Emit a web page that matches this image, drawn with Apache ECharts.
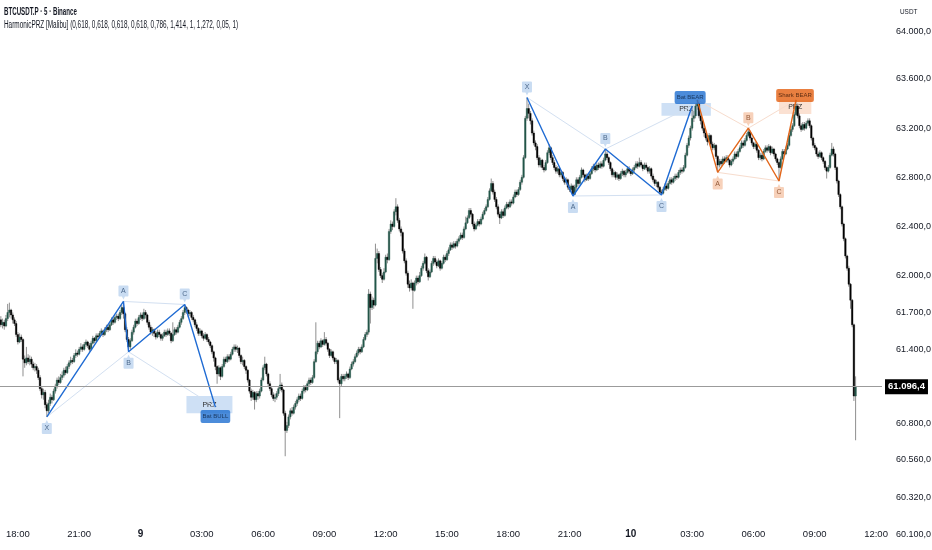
<!DOCTYPE html>
<html>
<head>
<meta charset="utf-8">
<script src="https://cdn.jsdelivr.net/npm/echarts@6/dist/echarts.min.js"></script>
<style>
html,body{margin:0;padding:0;background:#fff;}
#chart{width:932px;height:550px;}
</style>
</head>
<body>
<div id="chart"></div>
<script>
// ---------- DATA ----------
const symbolTitle = 'BTCUSDT.P · 5 · Binance';
const indicatorTitle = 'HarmonicPRZ [Malibu] (0,618, 0,618, 0,618, 0,618, 0,786, 1,414, 1, 1,272, 0,05, 1)';
const currencyLabel = 'USDT';
const startDay = 8, startMinute = 17 * 60 + 10, slotCount = 518; // 5-minute slots from 17:10
const lastPrice = 61096.4;
const lastPriceLabel = '61.096,4';

// candles: [open, close, low, high]
const candles = [
[61640,61600,61580,61670],[61600,61620,61570,61650],[61620,61590,61560,61640],[61590,61650,61580,61680],[61650,61700,61630,61770],
[61700,61720,61660,61780],[61720,61680,61650,61730],[61680,61640,61610,61700],[61640,61610,61590,61660],[61610,61520,61500,61630],
[61520,61460,61440,61540],[61460,61500,61450,61530],[61500,61480,61460,61520],[61480,61320,61180,61490],[61320,61290,61250,61350],
[61290,61330,61270,61420],[61330,61300,61280,61360],[61300,61320,61270,61350],[61320,61280,61250,61340],[61280,61250,61230,61300],
[61250,61260,61220,61290],[61260,61230,61200,61280],[61230,61170,61150,61250],[61170,61080,61060,61190],[61080,61030,61000,61100],
[61030,61050,60990,61080],[61050,60950,60920,61070],[60950,60900,60850,60970],[60900,60960,60880,60990],[60960,61010,60940,61040],
[61010,60990,60960,61030],[60990,61060,60980,61080],[61060,61100,61040,61120],[61100,61150,61080,61170],[61150,61130,61110,61180],
[61130,61170,61120,61200],[61170,61190,61150,61220],[61190,61230,61170,61250],[61230,61210,61190,61260],[61210,61260,61200,61280],
[61260,61290,61240,61310],[61290,61310,61270,61340],[61310,61300,61280,61330],[61300,61350,61290,61370],[61350,61370,61330,61400],
[61370,61360,61340,61390],[61360,61400,61350,61420],[61400,61420,61380,61450],[61420,61400,61380,61440],[61400,61440,61390,61460],
[61440,61460,61420,61480],[61460,61430,61410,61470],[61430,61400,61380,61450],[61400,61450,61390,61470],[61450,61490,61440,61510],
[61490,61470,61450,61500],[61470,61510,61460,61530],[61510,61500,61480,61530],[61500,61530,61490,61550],[61530,61550,61510,61570],
[61550,61520,61500,61560],[61520,61560,61510,61580],[61560,61580,61540,61600],[61580,61560,61540,61600],[61560,61600,61550,61620],
[61600,61640,61590,61660],[61640,61620,61600,61660],[61620,61660,61610,61680],[61660,61670,61640,61690],[61670,61650,61630,61690],
[61650,61700,61640,61720],[61700,61740,61680,61760],[61740,61690,61650,61790],[61690,61560,61540,61700],[61560,61480,61460,61580],
[61480,61420,61380,61500],[61420,61470,61400,61490],[61470,61540,61460,61560],[61540,61580,61520,61600],[61580,61630,61570,61650],
[61630,61610,61590,61650],[61610,61660,61600,61680],[61660,61680,61640,61700],[61680,61650,61630,61700],[61650,61700,61640,61730],
[61700,61680,61650,61720],[61680,61620,61600,61690],[61620,61580,61560,61640],[61580,61540,61520,61600],[61540,61560,61510,61580],
[61560,61530,61500,61570],[61530,61500,61480,61550],[61500,61540,61490,61560],[61540,61520,61500,61560],[61520,61490,61470,61530],
[61490,61510,61470,61530],[61510,61540,61500,61560],[61540,61520,61500,61560],[61520,61550,61510,61570],[61550,61530,61510,61570],
[61530,61470,61450,61540],[61470,61520,61460,61620],[61520,61560,61510,61580],[61560,61540,61520,61580],[61540,61580,61530,61600],
[61580,61620,61570,61640],[61620,61650,61600,61670],[61650,61700,61640,61720],[61700,61740,61680,61765],[61740,61720,61690,61750],
[61720,61690,61660,61730],[61690,61700,61670,61720],[61700,61660,61640,61710],[61660,61640,61620,61680],[61640,61600,61580,61650],
[61600,61570,61550,61620],[61570,61530,61510,61580],[61530,61550,61510,61570],[61550,61510,61490,61560],[61510,61490,61470,61530],
[61490,61520,61480,61540],[61520,61480,61460,61530],[61480,61460,61440,61500],[61460,61430,61410,61470],[61430,61380,61360,61440],
[61380,61330,61300,61390],[61330,61260,61230,61340],[61260,61200,61120,61270],[61200,61250,61180,61270],[61250,61180,61150,61260],
[61180,61260,61170,61280],[61260,61320,61250,61340],[61320,61300,61280,61340],[61300,61340,61290,61360],[61340,61320,61300,61360],
[61320,61360,61310,61380],[61360,61400,61350,61420],[61400,61420,61380,61440],[61420,61400,61380,61440],[61400,61410,61370,61430],
[61410,61350,61330,61420],[61350,61300,61280,61360],[61300,61310,61270,61340],[61310,61260,61240,61320],[61260,61230,61200,61270],
[61230,61150,61130,61240],[61150,61060,61040,61160],[61060,61010,60980,61080],[61010,61050,60990,61070],[61050,60990,60910,61060],
[60990,61040,60970,61060],[61040,61020,60990,61060],[61020,61060,61000,61080],[61060,61150,61050,61170],[61150,61250,61140,61270],
[61250,61280,61230,61340],[61280,61200,61180,61290],[61200,61120,61100,61210],[61120,61080,61060,61140],[61080,61030,61010,61100],
[61030,61000,60980,61050],[61000,61010,60970,61040],[61010,61040,60990,61060],[61040,61080,61020,61100],[61080,61110,61060,61200],
[61110,61070,61050,61130],[61070,60880,60860,61080],[60880,60740,60530,60900],[60740,60780,60720,60810],[60780,60850,60760,60870],
[60850,60900,60830,60920],[60900,60880,60860,60930],[60880,60930,60870,60950],[60930,60960,60910,60980],[60960,60990,60940,61010],
[60990,61020,60970,61040],[61020,61000,60980,61040],[61000,61060,60990,61080],[61060,61090,61040,61110],[61090,61070,61050,61110],
[61070,61120,61060,61140],[61120,61150,61100,61170],[61150,61130,61110,61170],[61130,61170,61120,61190],[61170,61300,61160,61320],
[61300,61380,61290,61620],[61380,61450,61360,61470],[61450,61420,61400,61470],[61420,61470,61410,61490],[61470,61440,61420,61480],
[61440,61480,61430,61540],[61480,61450,61430,61500],[61450,61400,61380,61460],[61400,61350,61330,61410],[61350,61380,61340,61400],
[61380,61330,61310,61390],[61330,61300,61280,61340],[61300,61310,61280,61330],[61310,61150,61130,61320],[61150,61120,60840,61170],
[61120,61180,61100,61200],[61180,61160,61140,61200],[61160,61180,61140,61200],[61180,61200,61160,61220],[61200,61170,61150,61210],
[61170,61240,61160,61260],[61240,61280,61230,61300],[61280,61300,61260,61320],[61300,61340,61290,61360],[61340,61370,61330,61390],
[61370,61400,61350,61420],[61400,61380,61360,61420],[61380,61420,61370,61440],[61420,61480,61410,61500],[61480,61520,61470,61540],
[61520,61540,61500,61560],[61540,61850,61520,61890],[61850,61740,61610,61870],[61740,61800,61720,61830],[61800,61760,61730,61820],
[61760,62140,61750,62260],[62140,62180,62100,62220],[62180,62050,62030,62200],[62050,62000,61980,62070],[62000,61970,61940,62020],
[61970,62030,61960,62060],[62030,62150,62020,62170],[62150,62130,62100,62180],[62130,62360,62120,62380],[62360,62420,62340,62450],
[62420,62400,62370,62440],[62400,62520,62390,62540],[62520,62560,62490,62630],[62560,62450,62430,62580],[62450,62380,62360,62470],
[62380,62350,62320,62400],[62350,62200,62180,62360],[62200,62120,62100,62220],[62120,62020,62000,62140],[62020,61930,61900,62040],
[61930,61900,61870,61960],[61900,61940,61880,61970],[61940,61880,61730,61950],[61880,61940,61870,61960],[61940,61980,61920,62000],
[61980,61950,61930,62000],[61950,62000,61940,62030],[62000,62060,61990,62080],[62060,62100,62040,62120],[62100,62150,62090,62180],
[62150,62040,62020,62160],[62040,61990,61960,62060],[61990,62030,61980,62050],[62030,62100,62020,62120],[62100,62140,62080,62160],
[62140,62110,62090,62160],[62110,62080,62060,62130],[62080,62120,62070,62140],[62120,62060,62040,62130],[62060,62100,62050,62120],
[62100,62150,62090,62170],[62150,62130,62110,62170],[62130,62180,62120,62200],[62180,62210,62160,62230],[62210,62250,62200,62270],
[62250,62230,62210,62270],[62230,62260,62220,62280],[62260,62240,62220,62280],[62240,62280,62230,62300],[62280,62300,62260,62320],
[62300,62330,62290,62350],[62330,62310,62290,62350],[62310,62380,62300,62400],[62380,62430,62370,62480],[62430,62470,62420,62490],
[62470,62530,62460,62550],[62530,62500,62480,62550],[62500,62420,62400,62510],[62420,62380,62360,62440],[62380,62410,62370,62430],
[62410,62440,62400,62460],[62440,62420,62400,62460],[62420,62460,62410,62480],[62460,62500,62450,62520],[62500,62530,62490,62550],
[62530,62560,62520,62580],[62560,62620,62550,62640],[62620,62690,62610,62710],[62690,62750,62680,62790],[62750,62680,62660,62770],
[62680,62620,62600,62700],[62620,62560,62540,62640],[62560,62500,62480,62580],[62500,62470,62420,62520],[62470,62520,62460,62540],
[62520,62490,62470,62540],[62490,62550,62480,62570],[62550,62580,62540,62600],[62580,62560,62540,62600],[62560,62600,62550,62620],
[62600,62590,62570,62620],[62590,62640,62580,62660],[62640,62680,62630,62700],[62680,62660,62640,62700],[62660,62700,62650,62720],
[62700,62760,62690,62780],[62760,62800,62740,62820],[62800,62960,62790,62980],[62960,63280,62950,63300],[63280,63360,63260,63450],
[63360,63320,63280,63400],[63320,63260,63230,63340],[63260,63160,63140,63280],[63160,63080,63060,63180],[63080,63050,63020,63100],
[63050,62960,62940,63070],[62960,62900,62880,62980],[62900,62940,62880,62960],[62940,62880,62860,62950],[62880,62860,62840,62900],
[62860,62920,62850,62940],[62920,63000,62910,63020],[63000,63040,62980,63070],[63040,62960,62940,63050],[62960,62920,62900,62980],
[62920,62880,62860,62940],[62880,62850,62830,62900],[62850,62870,62830,62890],[62870,62820,62800,62880],[62820,62840,62800,62860],
[62840,62790,62770,62850],[62790,62760,62740,62800],[62760,62780,62740,62800],[62780,62720,62700,62790],[62720,62700,62680,62740],
[62700,62730,62680,62750],[62730,62660,62648,62740],[62660,62720,62655,62740],[62720,62780,62700,62800],[62780,62750,62730,62800],
[62750,62800,62740,62820],[62800,62860,62790,62880],[62860,62820,62800,62870],[62820,62780,62760,62830],[62780,62810,62770,62830],
[62810,62790,62770,62830],[62790,62830,62780,62850],[62830,62870,62820,62890],[62870,62890,62850,62910],[62890,62860,62840,62900],
[62860,62900,62850,62920],[62900,62880,62860,62920],[62880,62910,62870,62930],[62910,62890,62870,62930],[62890,62940,62880,62960],
[62940,62990,62930,63030],[62990,62960,62940,63010],[62960,62920,62900,62970],[62920,62870,62850,62930],[62870,62820,62800,62880],
[62820,62840,62800,62860],[62840,62800,62780,62850],[62800,62820,62780,62840],[62820,62790,62770,62830],[62790,62830,62780,62850],
[62830,62850,62810,62870],[62850,62820,62800,62860],[62820,62840,62800,62860],[62840,62870,62830,62890],[62870,62850,62830,62890],
[62850,62830,62810,62870],[62830,62860,62820,62880],[62860,62880,62840,62900],[62880,62910,62870,62930],[62910,62890,62870,62930],
[62890,62920,62880,62960],[62920,62900,62880,62940],[62900,62870,62850,62910],[62870,62900,62860,62920],[62900,62880,62860,62920],
[62880,62850,62830,62890],[62850,62870,62830,62890],[62870,62810,62790,62880],[62810,62780,62760,62830],[62780,62750,62730,62790],
[62750,62760,62720,62780],[62760,62720,62700,62770],[62720,62680,62660,62730],[62680,62670,62656,62700],[62670,62700,62660,62720],
[62700,62730,62690,62750],[62730,62710,62690,62750],[62710,62750,62700,62770],[62750,62780,62740,62800],[62780,62760,62740,62800],
[62760,62790,62750,62810],[62790,62810,62770,62830],[62810,62800,62780,62830],[62800,62840,62790,62860],[62840,62860,62820,62880],
[62860,62850,62830,62880],[62850,62880,62840,62900],[62880,62980,62870,63000],[62980,63060,62970,63080],[63060,63120,63040,63140],
[63120,63200,63100,63220],[63200,63280,63180,63380],[63280,63300,63250,63340],[63300,63380,63280,63400],[63380,63400,63350,63430],
[63400,63300,63280,63410],[63300,63260,63230,63320],[63260,63200,63180,63280],[63200,63160,63130,63220],[63160,63120,63100,63180],
[63120,63090,63060,63140],[63090,63140,63080,63160],[63140,63070,63050,63150],[63070,63040,63020,63090],[63040,63060,63020,63080],
[63060,62970,62950,63070],[62970,62900,62840,62980],[62900,62930,62880,62950],[62930,62910,62890,62950],[62910,62950,62900,62970],
[62950,62930,62910,62970],[62930,62960,62920,62980],[62960,62940,62920,62980],[62940,62900,62880,62950],[62900,62930,62890,62950],
[62930,62950,62910,62970],[62950,62990,62940,63010],[62990,62970,62950,63010],[62970,63010,62960,63030],[63010,63040,63000,63060],
[63040,63080,63030,63100],[63080,63060,63040,63100],[63060,63100,63050,63120],[63100,63140,63090,63160],[63140,63170,63130,63200],
[63170,63120,63100,63180],[63120,63080,63060,63130],[63080,63050,63030,63090],[63050,63070,63030,63090],[63070,63020,63000,63080],
[63020,62960,62940,63030],[62960,62980,62940,63000],[62980,62950,62930,63000],[62950,63010,62940,63030],[63010,63040,63000,63060],
[63040,63020,63000,63060],[63020,63050,63010,63070],[63050,63000,62980,63060],[63000,63030,62990,63050],[63030,62990,62970,63040],
[62990,62950,62930,63000],[62950,62920,62900,62960],[62920,62880,62770,62930],[62880,62950,62870,62970],[62950,63010,62940,63030],
[63010,62990,62970,63030],[62990,63030,62980,63050],[63030,63060,63020,63080],[63060,63140,63050,63160],[63140,63190,63130,63210],
[63190,63220,63170,63240],[63220,63310,63210,63330],[63310,63380,63300,63430],[63380,63300,63280,63400],[63300,63220,63200,63320],
[63220,63190,63170,63240],[63190,63230,63180,63250],[63230,63200,63180,63250],[63200,63240,63190,63260],[63240,63260,63220,63280],
[63260,63220,63200,63280],[63220,63120,63100,63230],[63120,63060,63040,63130],[63060,63040,63020,63080],[63040,62990,62970,63050],
[62990,62970,62950,63010],[62970,63000,62960,63020],[63000,62960,62940,63010],[62960,62930,62910,62970],[62930,62880,62860,62940],
[62880,62850,62790,62890],[62850,62880,62840,62900],[62880,62980,62870,63000],[62980,63030,62970,63080],[63030,62990,62970,63050],
[62990,62880,62860,63000],[62880,62770,62750,62890],[62770,62660,62640,62780],[62660,62560,62540,62670],[62560,62420,62400,62570],
[62420,62300,62280,62430],[62300,62160,62140,62310],[62160,62060,62040,62170],[62060,61930,61910,62080],[61930,61800,61730,61940],
[61800,61600,61580,61810],[61600,61020,60980,61610],[61020,61096.4,60660,61180]
];

// harmonic pattern pivots: [slot index, price]
const bullBatPoints = [[27,60850],[72,61790],[75,61380],[108,61765],[126,60930]];
const bearBatPoints = [[309,63450],[336,62648],[355,63030],[388,62656],[406,63380]];
const bearSharkPoints = [[409,63430],[421,62840],[439,63200],[457,62770],[467,63430]];
const pointNames = ['X','A','B','C','D'];

// PRZ zones: [slot from, slot to, price top, price bottom]
const bullBatPrz = [109,136,61020,60880];
const bearBatPrz = [388,417,63405,63300];
const bearSharkPrz = [457,476,63430,63315];

// price axis labels (text) and where they sit on the price scale
const yTickLabels = ['64.000,0','63.600,0','63.200,0','62.800,0','62.400,0','62.000,0','61.700,0','61.400,0','60.800,0','60.560,0','60.320,0','60.100,0'];
const yTickPos    = [63983,63600,63200,62800,62400,62000,61700,61400,60800,60507,60198,59896];
const yMin = 59767, yMax = 64243;

// ---------- BUILD ----------
const pad = n => (n < 10 ? '0' : '') + n;
const categories = [];
for (let i = 0; i < slotCount; i++) {
  const m = startMinute + i * 5;
  const d = startDay + Math.floor(m / 1440);
  const mm = m % 1440;
  categories.push(d + ' ' + pad(Math.floor(mm / 60)) + ':' + pad(mm % 60));
}

const FONT = "'Liberation Sans Narrow','Arial Narrow','Liberation Sans',sans-serif";
const BLUE = '#1f6bd3', BLUE_FAINT = '#d3e0f1', BLUE_LBL = '#bcd3ef', BLUE_TXT = '#2a4a70';
const ORANGE = '#e2661a', ORANGE_FAINT = '#f7dccd', ORANGE_LBL = '#f5c6a9', ORANGE_TXT = '#7a3b16';

const LBL_DOWN = 'path://M1,0H9Q10,0 10,1V10Q10,11 9,11H6.5L5,14L3.5,11H1Q0,11 0,10V1Q0,0 1,0Z';
const LBL_UP = 'path://M5,0L6.5,3H9Q10,3 10,4V13Q10,14 9,14H1Q0,14 0,13V4Q0,3 1,3H3.5Z';

function candleItem(params, api) {
  const i = api.value(0);
  const o = api.value(1), c = api.value(2), l = api.value(3), h = api.value(4);
  const pO = api.coord([i, o]), pC = api.coord([i, c]);
  const pL = api.coord([i, l]), pH = api.coord([i, h]);
  const w = Math.max(api.size([1, 0])[0] * 0.9, 1);
  const top = Math.min(pO[1], pC[1]);
  const bh = Math.max(Math.abs(pO[1] - pC[1]), 1);
  const up = c >= o;
  const col = up ? '#24574a' : '#000000';
  return {
    type: 'group',
    children: [
      { type: 'line', shape: { x1: pH[0], y1: pH[1], x2: pL[0], y2: pL[1] }, style: { stroke: '#8f8f8f', lineWidth: 1 } },
      { type: 'rect', shape: { x: pO[0] - w / 2, y: top, width: w, height: bh }, style: { fill: col, stroke: col, lineWidth: 0.4 } }
    ]
  };
}

const series = [];

function przArea(z, fill) {
  return [
    { coord: [z[0], z[2]], itemStyle: { color: fill },
      label: { show: true, position: 'inside', formatter: 'PRZ', color: '#2b2b2b', fontSize: 7, fontFamily: FONT } },
    { coord: [z[1], z[3]] }
  ];
}
series.push({
  type: 'line', name: 'helper', data: [[candles.length - 1, lastPrice]],
  symbol: 'none', lineStyle: { opacity: 0 }, z: 1, silent: true,
  markArea: {
    silent: true,
    data: [przArea(bullBatPrz, 'rgba(190,213,242,0.75)'), przArea(bearBatPrz, 'rgba(190,213,242,0.75)'), przArea(bearSharkPrz, 'rgba(250,220,202,0.85)')]
  },
  markLine: {
    silent: true, symbol: 'none',
    lineStyle: { color: '#9b9b9b', width: 1, type: 'solid' },
    label: {
      show: true, position: 'end', distance: 3,
      formatter: lastPriceLabel, color: '#fff', backgroundColor: '#000',
      padding: [3, 3, 2, 3], fontSize: 9.5, fontWeight: 'bold', fontFamily: FONT
    },
    data: [{ yAxis: lastPrice }]
  }
});

series.push({
  type: 'custom', name: 'BTCUSDT.P', renderItem: candleItem, z: 2,
  encode: { x: 0, y: [1, 2, 3, 4] },
  data: candles.map((d, i) => [i, d[0], d[1], d[2], d[3]])
});

function addPattern(pts, color, faint, lblFill, lblTxt, lowFirst, tagText, tagBg, tagTxt, tagOffset, labelFrom) {
  [[0, 2], [1, 3], [2, 4]].forEach(([a, b]) => {
    series.push({ type: 'line', data: [pts[a], pts[b]], symbol: 'none', lineStyle: { color: faint, width: 1 }, z: 3, silent: true });
  });
  series.push({ type: 'line', data: pts, symbol: 'none', lineStyle: { color: color, width: 1.4 }, z: 4, silent: true });
  const items = [];
  for (let i = labelFrom; i < 4; i++) {
    const low = (i % 2 === 0) === lowFirst;
    items.push({
      value: pts[i], name: pointNames[i],
      symbol: low ? LBL_UP : LBL_DOWN,
      symbolOffset: [0, low ? 10 : -9],
      label: { offset: [0, low ? 1.5 : -1.5] }
    });
  }
  series.push({
    type: 'scatter', data: items, symbolSize: [10, 14], z: 5, silent: true,
    itemStyle: { color: lblFill },
    label: { show: true, position: 'inside', formatter: '{b}', color: lblTxt, fontSize: 7, fontFamily: FONT }
  });
  series.push({
    type: 'scatter', data: [{ value: pts[4], name: tagText }], symbolSize: 1, z: 6, silent: true,
    itemStyle: { color: 'rgba(0,0,0,0)' },
    label: {
      show: true, position: 'inside', offset: tagOffset, formatter: '{b}',
      color: tagTxt, backgroundColor: tagBg, padding: [4, 2, 3, 2], borderRadius: 2,
      fontSize: 6, fontFamily: FONT
    }
  });
}
addPattern(bearSharkPoints, ORANGE, ORANGE_FAINT, ORANGE_LBL, ORANGE_TXT, false, 'Shark BEAR', '#e35f10', '#3a1806', [-1, -4.5], 1);
addPattern(bullBatPoints, BLUE, BLUE_FAINT, BLUE_LBL, BLUE_TXT, true, 'Bat BULL', '#1f6fd1', '#0d2240', [0, 9.5], 0);
addPattern(bearBatPoints, BLUE, BLUE_FAINT, BLUE_LBL, BLUE_TXT, false, 'Bat BEAR', '#1f6fd1', '#0d2240', [-2, -8.5], 0);

const option = {
  animation: false,
  backgroundColor: '#ffffff',
  textStyle: { fontFamily: FONT },
  graphic: [
    { type: 'text', left: 4, top: 6, scaleX: 0.56, originX: 0, z: 10,
      style: { text: symbolTitle, font: "bold 11px " + FONT, fill: '#131722' } },
    { type: 'text', left: 4, top: 20, scaleX: 0.64, originX: 0, z: 10,
      style: { text: indicatorTitle, font: "10px " + FONT, fill: '#131722' } },
    { type: 'text', left: 900, top: 8, scaleX: 0.8, originX: 0, z: 10,
      style: { text: currencyLabel, font: "8px " + FONT, fill: '#131722' } }
  ],
  grid: { left: 0, right: 50, top: 0, bottom: 0, containLabel: false, outerBoundsMode: 'none' },
  xAxis: {
    type: 'category', data: categories, boundaryGap: true,
    axisLine: { show: false }, axisTick: { show: false }, splitLine: { show: false },
    axisLabel: {
      inside: true, margin: 11, color: '#131722', fontSize: 9.5, fontFamily: FONT,
      interval: (idx, val) => { const t = val.split(' ')[1].split(':').map(Number); return t[1] === 0 && t[0] % 3 === 0; },
      formatter: val => { const p = val.split(' '); return p[1] === '00:00' ? '{d|' + p[0] + '}' : p[1]; },
      rich: { d: { fontWeight: 'bold', fontSize: 10, color: '#131722', fontFamily: FONT } }
    }
  },
  yAxis: {
    type: 'value', position: 'right', min: yMin, max: yMax, scale: true,
    axisLine: { show: false }, axisTick: { show: false }, splitLine: { show: false },
    axisLabel: {
      customValues: yTickPos, margin: 14, color: '#131722', fontSize: 9, fontFamily: FONT,
      formatter: v => { const i = yTickPos.indexOf(v); return i >= 0 ? yTickLabels[i] : ''; }
    }
  },
  series: series
};

const chart = echarts.init(document.getElementById('chart'), null, { renderer: 'canvas' });
chart.setOption(option);
</script>
</body>
</html>
